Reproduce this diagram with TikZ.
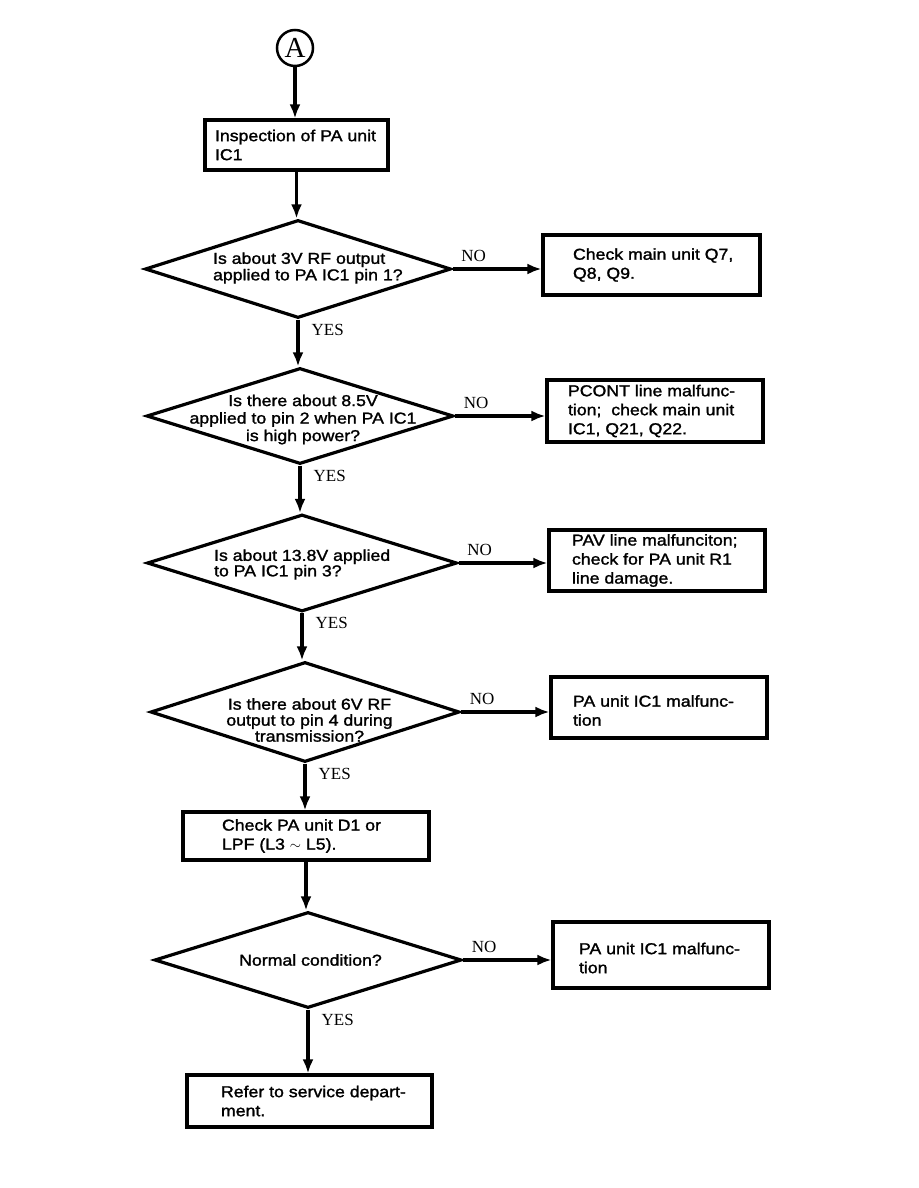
\documentclass[tikz,border=0pt]{standalone}
\usepackage{fontspec}
\setmainfont[FakeBold=1.5,FakeStretch=1.12]{Liberation Sans}
\newfontfamily\serifA{Liberation Serif}
\usetikzlibrary{shapes.geometric,arrows.meta}
\begin{document}
\begin{tikzpicture}[x=1pt,y=-1pt,
  line width=3.2pt,
  conn/.style={-{Latex[length=14pt,width=11pt]}},
  boxnode/.style={draw,rectangle,inner sep=0pt},
  dia/.style={draw,diamond,inner sep=0pt},
  btext/.style={anchor=west,align=left,inner sep=0pt,font=\fontsize{15.8}{19}\selectfont},
  dtext/.style={align=center,inner sep=0pt},
  yn/.style={inner sep=0pt,font=\serifA\fontsize{17}{18}\selectfont},
]
\useasboundingbox[fill=white] (0,0) rectangle (918,1188);

% start
\node[draw,circle,line width=2.5pt,minimum size=36pt,inner sep=0pt,font=\serifA\fontsize{29}{30}\selectfont] (A) at (295,48) {A};

% boxes
\node[boxnode,minimum width=183pt,minimum height=50pt] (b1) at (296.5,145) {};
\node[btext] (t1) at ([xshift=10pt]b1.west) {Inspection of PA unit\\IC1};

\node[boxnode,minimum width=217pt,minimum height=60pt] (b2) at (651.5,265) {};
\node[btext] (t2) at ([xshift=30pt]b2.west) {Check main unit Q7,\\Q8, Q9.};

\node[boxnode,minimum width=216pt,minimum height=62pt] (b3) at (655,411) {};
\node[btext] (t3) at ([xshift=21pt]b3.west) {PCONT line malfunc-\\tion;\ \ check main unit\\IC1, Q21, Q22.};

\node[boxnode,minimum width=216pt,minimum height=61pt] (b4) at (657,560.5) {};
\node[btext] (t4) at ([xshift=23pt]b4.west) {PAV line malfunciton;\\check for PA unit R1\\line damage.};

\node[boxnode,minimum width=216pt,minimum height=61pt] (b5) at (659,707.5) {};
\node[btext] (t5) at ([xshift=22pt,yshift=-3pt]b5.west) {PA unit IC1 malfunc-\\tion};

\node[boxnode,minimum width=246pt,minimum height=48pt] (b6) at (306,836) {};
\node[btext] (t6) at ([xshift=39pt]b6.west) {Check PA unit D1 or\\LPF (L3 $\sim$ L5).};

\node[boxnode,minimum width=216pt,minimum height=66pt] (b7) at (661,955) {};
\node[btext] (t7) at ([xshift=26pt,yshift=-3pt]b7.west) {PA unit IC1 malfunc-\\tion};

\node[boxnode,minimum width=245pt,minimum height=52pt] (b8) at (309.5,1101) {};
\node[btext] (t8) at ([xshift=34pt]b8.west) {Refer to service depart-\\ment.};

% diamonds
\node[dia,minimum width=306pt,minimum height=98pt] (d1) at (298,269) {};
\node[dtext,align=left,anchor=west,font=\fontsize{15.8}{16.5}\selectfont] (e1) at (211.5,268) {Is about 3V RF output\\applied to PA IC1 pin 1?};

\node[dia,minimum width=307pt,minimum height=96pt] (d2) at (300,416) {};
\node[dtext,font=\fontsize{15.8}{17.5}\selectfont] (e2) at (303,419.5) {Is there about 8.5V\\applied to pin 2 when PA IC1\\is high power?};

\node[dia,minimum width=310pt,minimum height=97pt] (d3) at (302,563) {};
\node[dtext,align=left,anchor=west,font=\fontsize{15.8}{15.5}\selectfont] (e3) at (212.5,564.5) {Is about 13.8V applied\\to PA IC1 pin 3?};

\node[dia,minimum width=309pt,minimum height=100pt] (d4) at (305,712) {};
\node[dtext,font=\fontsize{15.8}{16}\selectfont] (e4) at (309.5,720) {Is there about 6V RF\\output to pin 4 during\\transmission?};

\node[dia,minimum width=307pt,minimum height=96pt] (d5) at (308,960) {};
\node[dtext,font=\fontsize{15.8}{17.5}\selectfont] (e5) at (310.5,960) {Normal condition?};

% vertical connectors
\draw[conn] (A.south) -- (A.south |- b1.north);
\draw[conn] (b1.south) -- (b1.south |- d1.north);
\draw[conn] (d1.south) -- (d1.south |- d2.north);
\draw[conn] (d2.south) -- (d2.south |- d3.north);
\draw[conn] (d3.south) -- (d3.south |- d4.north);
\draw[conn] (d4.south) -- (d4.south |- b6.north);
\draw[conn] (b6.south) -- (b6.south |- d5.north);
\draw[conn] (d5.south) -- (d5.south |- b8.north);

% NO connectors
\draw[conn] (d1.east) -- (d1.east -| b2.west);
\draw[conn] (d2.east) -- (d2.east -| b3.west);
\draw[conn] (d3.east) -- (d3.east -| b4.west);
\draw[conn] (d4.east) -- (d4.east -| b5.west);
\draw[conn] (d5.east) -- (d5.east -| b7.west);

% labels
\foreach \d in {d1,d2,d3,d4,d5}{
  \node[yn,anchor=west] at ([xshift=12pt,yshift=-10pt]\d.south) {YES};
  \node[yn] at ([xshift=21pt,yshift=13pt]\d.east) {NO};
}
\end{tikzpicture}
\end{document}
